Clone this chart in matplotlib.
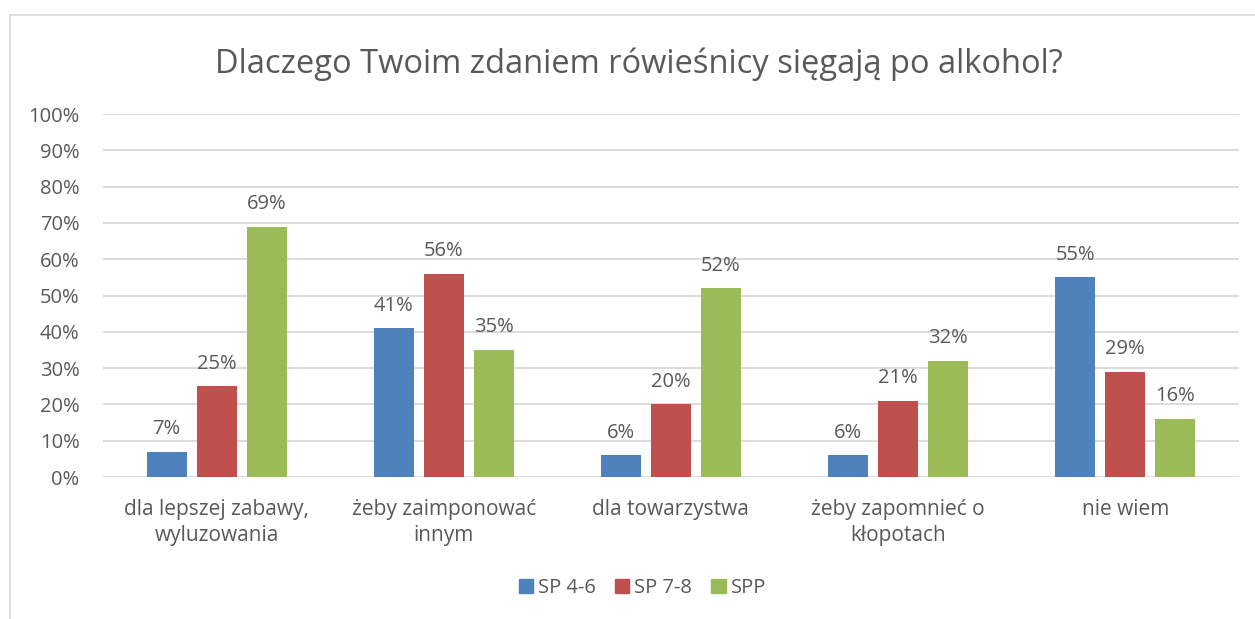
import matplotlib.pyplot as plt
import numpy as np
from matplotlib.lines import Line2D
from matplotlib.patches import Patch

# Dane wykresu
categories = ["dla lepszej zabawy,\nwyluzowania", "żeby zaimponować\ninnym",
              "dla towarzystwa", "żeby zapomnieć o\nkłopotach", "nie wiem"]
series_names = ["SP 4-6", "SP 7-8", "SPP"]
sp46 = [7, 41, 6, 6, 55]
sp78 = [25, 56, 20, 21, 29]
spp = [69, 35, 52, 32, 16]
colors = ["#4f81bd", "#c0504d", "#9bbb59"]
text_col = "#595959"

plt.rcParams['font.family'] = ['Open Sans', 'DejaVu Sans']

fig = plt.figure(figsize=(12.55, 6.19), dpi=100)
ax = fig.add_axes([0.0821, 0.2294, 0.905, 0.5864])

x = np.arange(len(categories))
width = 0.176
step = 0.22
for i, (vals, col) in enumerate(zip([sp46, sp78, spp], colors)):
    pos = x + (i - 1) * step
    bars = ax.bar(pos, vals, width, color=col, zorder=3)
    for b, v in zip(bars, vals):
        ax.annotate(f"{v}%", (b.get_x() + b.get_width() / 2, v),
                    xytext=(0, 9), textcoords="offset points",
                    ha="center", va="bottom", fontsize=14.5, color=text_col)

ax.set_ylim(0, 100)
ax.set_xlim(-0.5, len(categories) - 0.5)
ax.set_yticks(range(0, 101, 10))
ax.set_yticklabels([f"{t}%" for t in range(0, 101, 10)])
ax.set_xticks(x)
ax.set_xticklabels(categories, linespacing=1.3)
ax.tick_params(axis="both", length=0, labelsize=14.5, colors=text_col)
ax.tick_params(axis="x", labelsize=15, pad=16)
ax.tick_params(axis="y", pad=17)
ax.yaxis.grid(True, color="#d9d9d9", linewidth=1.3, zorder=0)
for s in ax.spines.values():
    s.set_visible(False)

fig.text(0.509, 0.897, "Dlaczego Twoim zdaniem rówieśnicy sięgają po alkohol?",
         ha="center", va="center", fontsize=23.5, color=text_col)

handles = [Patch(color=c) for c in colors]
fig.legend(handles, series_names, loc="center", bbox_to_anchor=(0.512, 0.05),
           ncol=3, frameon=False, fontsize=14.5, labelcolor=text_col,
           handlelength=0.7, handleheight=0.7, handletextpad=0.25,
           columnspacing=0.95)

# ramka obszaru wykresu
fig.add_artist(Line2D([10 / 1255, 1], [1 - 15 / 619, 1 - 15 / 619],
                      color="#d9d9d9", linewidth=1.2))
fig.add_artist(Line2D([10 / 1255, 10 / 1255], [0, 1 - 15 / 619],
                      color="#d9d9d9", linewidth=1.2))

fig.savefig("out.png", dpi=100)
